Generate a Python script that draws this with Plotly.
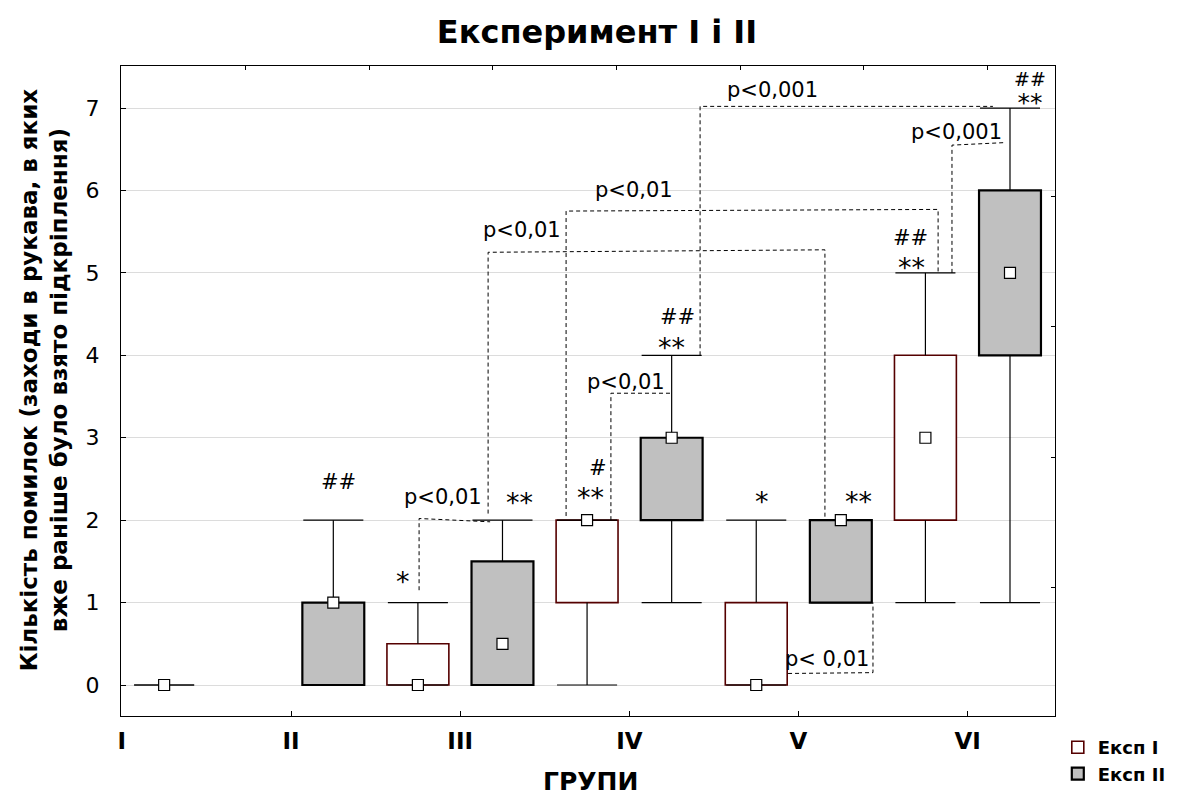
import plotly.graph_objects as go

# ---------------- data ----------------
groups = ["I", "II", "III", "IV", "V", "VI"]

# Експ I (None = not shown on the chart)
exp1_median = [None, None, 0, 2, 0, 3]
exp1_q1 = [None, None, 0, 1, 0, 2]
exp1_q3 = [None, None, 0.5, 2, 1, 4]
exp1_min = [None, None, 0, 0, 0, 1]
exp1_max = [None, None, 1, 2, 2, 5]

# Експ II
exp2_median = [0, 1, 0.5, 3, 2, 5]
exp2_q1 = [0, 0, 0, 2, 1, 4]
exp2_q3 = [0, 1, 1.5, 3, 2, 6]
exp2_min = [0, 0, 0, 1, 1, 1]
exp2_max = [0, 2, 2, 4, 2, 7]

# significance marks: (text, x in group units, y value)
sig_marks = [
    ("##", 1.278, 2.46), ("*", 1.662, 1.30), ("**", 2.348, 2.26),
    ("#", 2.815, 2.63), ("**", 2.768, 2.33), ("##", 3.282, 4.46),
    ("**", 3.252, 4.15), ("*", 3.784, 2.28), ("**", 4.357, 2.28),
    ("##", 4.659, 5.42), ("**", 4.665, 5.12),
]
# stacked mark "##" over "**" (x, y of the "##" line)
stacked_marks = [(5.368, 7.35)]
# p-value labels
p_labels = [
    ("p<0,01", 1.899, 2.28), ("p<0,01", 2.366, 5.52), ("p<0,01", 3.028, 6.0),
    ("p<0,001", 3.848, 7.22), ("p<0,001", 4.936, 6.71), ("p< 0,01", 4.168, 0.315),
    ("p<0,01", 2.98, 3.68),
]
# comparison brackets (dashed paths)
brackets = [
    [(1.757, 1.15), (1.757, 2.02), (2.177, 1.98)],
    [(2.165, 2.08), (2.165, 5.25), (4.156, 5.28), (4.156, 2.03)],
    [(2.626, 2.05), (2.626, 5.75), (4.825, 5.77), (4.825, 5.0)],
    [(3.418, 4.0), (3.418, 7.02), (5.149, 7.02)],
    [(4.907, 5.0), (4.907, 6.55), (5.214, 6.58)],
    [(3.938, 0.14), (4.44, 0.15), (4.44, 1.0)],
    [(2.891, 2.0), (2.891, 3.54), (3.252, 3.54)],
]

# ---------------- styling ----------------
FONT = "DejaVu Sans"
OFFSET = 0.25      # half-group offset of each experiment
BOX_W = 0.366
CAP_W = 0.355
EXP1_LINE = "#550000"
EXP2_FILL = "#c0c0c0"
X_RANGE = [-0.005, 5.516]
Y_RANGE = [-0.376, 7.51]

fig = go.Figure()


def add_series(name, med, q1, q3, mn, mx, offset, fill, line_color, line_w):
    xs, heights, bases = [], [], []
    for k in range(len(groups)):
        if q1[k] is None:
            continue
        xs.append(k + offset)
        h = q3[k] - q1[k]
        heights.append(h if h > 0 else None)
        bases.append(q1[k])
    fig.add_trace(go.Bar(
        x=xs, y=heights, base=bases, width=BOX_W, name=name,
        marker=dict(color=fill, line=dict(color=line_color, width=line_w)),
        hoverinfo="skip",
    ))
    # whiskers + caps
    wx, wy = [], []
    for k in range(len(groups)):
        if mn[k] is None:
            continue
        c = k + offset
        wx += [c, c, None, c, c, None,
               c - CAP_W / 2, c + CAP_W / 2, None, c - CAP_W / 2, c + CAP_W / 2, None]
        wy += [mn[k], q1[k], None, q3[k], mx[k], None,
               mn[k], mn[k], None, mx[k], mx[k], None]
    fig.add_trace(go.Scatter(x=wx, y=wy, mode="lines", showlegend=False,
                             line=dict(color="black", width=1.2), hoverinfo="skip"))
    return [(k + offset, med[k]) for k in range(len(groups)) if med[k] is not None]


m1 = add_series("Експ I", exp1_median, exp1_q1, exp1_q3, exp1_min, exp1_max,
                -OFFSET, "white", EXP1_LINE, 1.6)
m2 = add_series("Експ II", exp2_median, exp2_q1, exp2_q3, exp2_min, exp2_max,
                OFFSET, EXP2_FILL, "black", 2.2)

# median markers
for pts in (m1, m2):
    fig.add_trace(go.Scatter(
        x=[p[0] for p in pts], y=[p[1] for p in pts], mode="markers",
        showlegend=False, hoverinfo="skip",
        marker=dict(symbol="square", size=11, color="white",
                    line=dict(color="black", width=1.2)),
    ))

# brackets
for path in brackets:
    fig.add_trace(go.Scatter(
        x=[p[0] for p in path], y=[p[1] for p in path], mode="lines",
        showlegend=False, hoverinfo="skip",
        line=dict(color="black", width=1, dash="4px,3px"),
    ))

# empty trace so that the secondary (top / right) tick axes are drawn
fig.add_trace(go.Scatter(x=[], y=[], xaxis="x2", yaxis="y2", showlegend=False,
                         hoverinfo="skip"))

annotations = []
for txt, x, y in p_labels:
    annotations.append(dict(x=x, y=y, text=txt, showarrow=False, xref="x", yref="y",
                            font=dict(family=FONT, size=21, color="black")))
for txt, x, y in sig_marks:
    if "*" in txt:
        annotations.append(dict(x=x, y=y - 0.05, text=txt, showarrow=False,
                                xref="x", yref="y",
                                font=dict(family=FONT, size=27, color="black")))
    else:
        annotations.append(dict(x=x, y=y, text=txt, showarrow=False, xref="x", yref="y",
                                font=dict(family=FONT, size=21, color="black")))
for x, y in stacked_marks:
    annotations.append(dict(x=x, y=y, text="##<br><span style='font-size:25px'>**</span>",
                            showarrow=False, xref="x", yref="y", yanchor="top",
                            yshift=13,
                            font=dict(family=FONT, size=19, color="black")))

annotations.append(dict(
    text="Кількість помилок (заходи в рукава, в яких<br>вже раніше було взято підкріплення)",
    xref="paper", yref="paper", x=-0.082, y=0.517, textangle=-90, showarrow=False,
    xanchor="center", yanchor="middle",
    font=dict(family=FONT, size=23, color="black", weight="bold")))
annotations.append(dict(
    text="ГРУПИ", xref="paper", yref="paper", x=0.503, y=-0.1, showarrow=False,
    xanchor="center", yanchor="middle",
    font=dict(family=FONT, size=25, color="black", weight="bold")))

W, H = 1181, 788
fig.update_layout(
    width=W, height=H,
    margin=dict(l=113, r=134, t=58, b=80, autoexpand=False),
    paper_bgcolor="white", plot_bgcolor="white",
    barmode="overlay",
    title=dict(text="Експеримент І і ІІ", x=589 / W, xref="container", y=1 - 24 / H,
               yref="container", xanchor="center", yanchor="middle",
               font=dict(family=FONT, size=32, color="black", weight="bold")),
    annotations=annotations,
    legend=dict(x=1.003, y=-0.02, xanchor="left", yanchor="top",
                font=dict(family=FONT, size=18, color="black", weight="bold"),
                bgcolor="rgba(0,0,0,0)", itemwidth=30, tracegroupgap=0),
    showlegend=True,
    xaxis2=dict(overlaying="x", side="top", anchor="y", range=X_RANGE,
                tickvals=[0.731 * k for k in range(1, 8)], showticklabels=False,
                ticks="inside", ticklen=4, tickcolor="black", showgrid=False,
                zeroline=False, showline=False),
    yaxis2=dict(overlaying="y", side="right", anchor="x", range=Y_RANGE,
                tickvals=[5.924 - 1.58 * k for k in range(4)], showticklabels=False,
                ticks="inside", ticklen=4, tickcolor="black", showgrid=False,
                zeroline=False, showline=False),
)

fig.layout.xaxis.update(
    range=X_RANGE, tickvals=list(range(len(groups))), ticktext=groups,
    showgrid=False, zeroline=False, showline=True, linecolor="black", linewidth=1,
    mirror=True, ticks="inside", ticklen=5, tickcolor="black",
    ticklabelstandoff=4,
    tickfont=dict(family=FONT, size=23, color="black", weight="bold"),
)
fig.layout.yaxis.update(
    range=Y_RANGE, tickvals=list(range(8)),
    showgrid=True, gridcolor="#dcdcdc", gridwidth=1, zeroline=False,
    showline=True, linecolor="black", linewidth=1, mirror=True,
    ticks="inside", ticklen=5, tickcolor="black", ticklabelstandoff=16,
    tickfont=dict(family=FONT, size=22, color="black"),
)

fig.write_html("out.html")
